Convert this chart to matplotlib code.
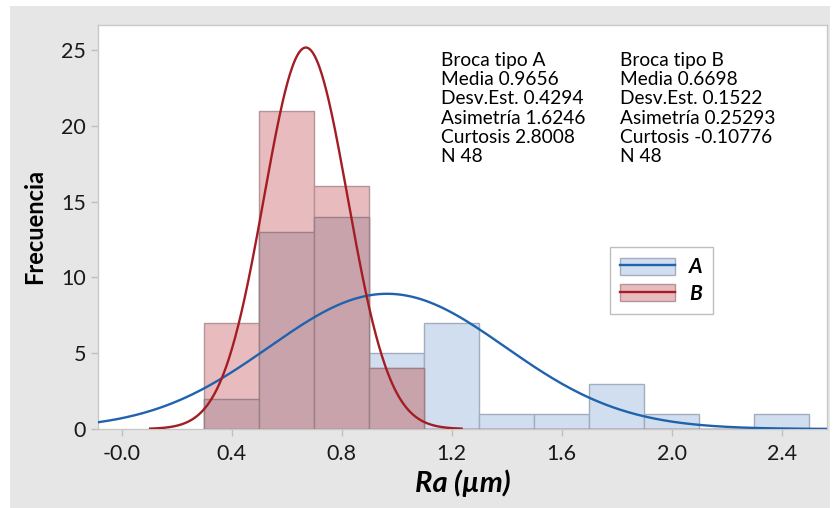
import numpy as np
import matplotlib
matplotlib.use("Agg")
import matplotlib.pyplot as plt
from matplotlib.patches import Rectangle
from matplotlib.lines import Line2D

plt.rcParams['font.family'] = ['Lato', 'DejaVu Sans']

# Data
bin_edges = [0.3, 0.5, 0.7, 0.9, 1.1, 1.3, 1.5, 1.7, 1.9, 2.1, 2.3, 2.5]
counts_A = [2, 13, 14, 5, 7, 1, 1, 3, 1, 0, 1]
counts_B = [7, 21, 16, 4, 0, 0, 0, 0, 0, 0, 0]
mean_A, sd_A, n_A = 0.9656, 0.4294, 48
mean_B, sd_B, n_B = 0.6698, 0.1522, 48
stats_A = ["Broca tipo A", "Media 0.9656", "Desv.Est. 0.4294", "Asimetría 1.6246", "Curtosis 2.8008", "N 48"]
stats_B = ["Broca tipo B", "Media 0.6698", "Desv.Est. 0.1522", "Asimetría 0.25293", "Curtosis -0.10776", "N 48"]
xticks = [0.0, 0.4, 0.8, 1.2, 1.6, 2.0, 2.4]
xtick_labels = ["-0.0", "0.4", "0.8", "1.2", "1.6", "2.0", "2.4"]
yticks = [0, 5, 10, 15, 20, 25]

W, H = 834, 508
fig = plt.figure(figsize=(W / 100, H / 100), dpi=100)
fig.patch.set_facecolor('white')
fig.patches.append(Rectangle((10 / W, 0), (830 - 10) / W, (H - 6) / H,
                             transform=fig.transFigure, facecolor='#e6e6e6',
                             edgecolor='none', zorder=-10))

ax = fig.add_axes([98 / W, (H - 429) / H, (827 - 98) / W, (429 - 25) / H])
ax.set_zorder(1)
ax.set_facecolor('white')

edges = np.array(bin_edges)
lefts = edges[:-1]
widths = np.diff(edges)
a = np.array(counts_A)
b = np.array(counts_B)
overlap = np.minimum(a, b)

blue_fill, blue_edge = '#d0def0', '#a3adbd'
red_fill, red_edge = '#e8bcbe', '#b49497'
ov_fill, ov_edge = '#c8a3ac', '#9b8088'
blue_line, red_line = '#1f62ad', '#a31d23'

ax.bar(lefts, a, width=widths, align='edge', color=blue_fill, edgecolor=blue_edge, linewidth=1.0, zorder=2)
ax.bar(lefts, b, width=widths, align='edge', color=red_fill, edgecolor=red_edge, linewidth=1.0, zorder=3)
ax.bar(lefts, overlap, width=widths, align='edge', color=ov_fill, edgecolor=ov_edge, linewidth=1.0, zorder=4)

binw = widths[0]
def normal_curve(m, s, n, k=3.72):
    x = np.linspace(m - k * s, m + k * s, 400)
    y = n * binw / (s * np.sqrt(2 * np.pi)) * np.exp(-0.5 * ((x - m) / s) ** 2)
    return x, y

xa, ya = normal_curve(mean_A, sd_A, n_A)
xb, yb = normal_curve(mean_B, sd_B, n_B)
ax.plot(xa, ya, color=blue_line, lw=1.7, zorder=5)
ax.plot(xb, yb, color=red_line, lw=1.7, zorder=6)

ax.set_xlim(-0.086, 2.565)
ax.set_ylim(0, 26.65)
ax.set_xticks(xticks)
ax.set_xticklabels(xtick_labels)
ax.set_yticks(yticks)
ax.tick_params(axis='both', colors='#c0c0c0', labelcolor='#1a1a1a', labelsize=15.5, length=5, width=1, direction='out')
ax.tick_params(axis='x', pad=6)
for sp in ax.spines.values():
    sp.set_color('#c8c8c8')
    sp.set_linewidth(1.0)

ax.set_xlabel("Ra (µm)", fontsize=21, fontweight='bold', fontstyle='italic', color='black', labelpad=4)
ax.set_ylabel("Frecuencia", fontsize=17, fontweight='bold', color='black', labelpad=11)

# stats text
ax.text(441 / W, 1 - 52 / H, "\n".join(stats_A), transform=fig.transFigure, fontsize=13.8,
        va='top', ha='left', linespacing=1.16, color='black')
ax.text(620 / W, 1 - 52 / H, "\n".join(stats_B), transform=fig.transFigure, fontsize=13.8,
        va='top', ha='left', linespacing=1.16, color='black')

# legend
handles = [
    (Rectangle((0, 0), 1, 1, facecolor=blue_fill, edgecolor=blue_edge), Line2D([], [], color=blue_line, lw=1.7)),
    (Rectangle((0, 0), 1, 1, facecolor=red_fill, edgecolor=red_edge), Line2D([], [], color=red_line, lw=1.7)),
]
leg = ax.legend(handles, ["A", "B"], loc='upper left', bbox_to_anchor=((610 - 98) / (827 - 98), (429 - 247) / (429 - 25)),
                frameon=True, fancybox=False, edgecolor='#b0b0b0', handlelength=2.6, handleheight=0.9,
                borderpad=0.5, labelspacing=0.3, handletextpad=0.7, borderaxespad=0,
                prop={'size': 15, 'weight': 'bold', 'style': 'italic'})
leg.get_frame().set_linewidth(1.0)

fig.savefig("out.png", dpi=100, facecolor=fig.get_facecolor())
